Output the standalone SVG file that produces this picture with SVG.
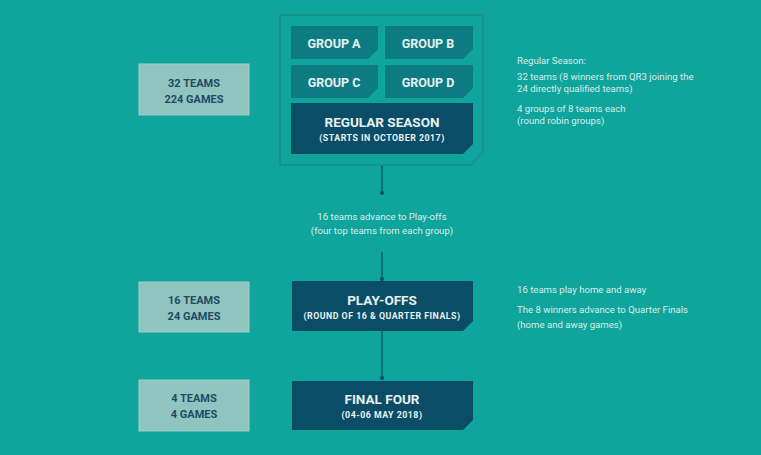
<svg xmlns="http://www.w3.org/2000/svg" width="761" height="455" viewBox="0 0 761 455">
<style>
.bg{fill:#0fa49c}
.frame{fill:none;stroke:#1d8e89;stroke-width:1.6}
.grp{fill:#0d7b82}
.dark{fill:#0b4c66}
.light{fill:#8fc5be;stroke:#9dcec7;stroke-width:1}
.lbl{font-family:Roboto,"Liberation Sans",sans-serif;font-weight:bold;fill:#e6f2f1;text-anchor:middle}
.big{font-size:13.5px}
.sub{font-size:8.8px;letter-spacing:0.5px}
.grpt{font-size:12.5px}
.cnt{font-family:Roboto,"Liberation Sans",sans-serif;font-weight:bold;font-size:11px;fill:#1f4a66;text-anchor:middle}
.note{font-family:Roboto,"Liberation Sans",sans-serif;font-size:9.6px;fill:#d6efeb}
.mid{text-anchor:middle}
.line{stroke:#0b4c66;stroke-width:1.2;fill:none}
.dot{fill:#0b4c66}
</style>
<rect class="bg" x="0" y="0" width="761" height="455"/>

<g id="connectors">
<line class="line" x1="382" y1="165" x2="382" y2="193"/>
<circle class="dot" cx="382" cy="193" r="2"/>
<line class="line" x1="382" y1="252" x2="382" y2="280"/>
<circle class="dot" cx="382" cy="279" r="2"/>
<line class="line" x1="382" y1="331" x2="382" y2="380"/>
<circle class="dot" cx="382" cy="378" r="2"/>
</g>

<g id="regular-season-frame">
<path class="frame" d="M280,15 H483 V152 L471,165 H280 Z"/>
</g>

<g id="group-a">
<path class="grp" d="M291,26 H378 V49 L368,59 H291 Z"/>
<text class="lbl grpt" x="334" y="48">GROUP A</text>
</g>
<g id="group-b">
<path class="grp" d="M385,26 H473 V49 L463,59 H385 Z"/>
<text class="lbl grpt" x="428" y="48">GROUP B</text>
</g>
<g id="group-c">
<path class="grp" d="M291,65 H378 V88 L368,98 H291 Z"/>
<text class="lbl grpt" x="334" y="87">GROUP C</text>
</g>
<g id="group-d">
<path class="grp" d="M385,65 H473 V88 L463,98 H385 Z"/>
<text class="lbl grpt" x="428" y="87">GROUP D</text>
</g>
<g id="regular-season">
<path class="dark" d="M291,103 H473 V144 L463,154 H291 Z"/>
<text class="lbl big" x="382" y="127">REGULAR SEASON</text>
<text class="lbl sub" x="382" y="141">(STARTS IN OCTOBER 2017)</text>
</g>

<g id="advance-note">
<text class="note mid" x="382" y="220">16 teams advance to Play-offs</text>
<text class="note mid" x="382" y="234">(four top teams from each group)</text>
</g>

<g id="play-offs">
<path class="dark" d="M292,281 H473 V321 L463,331 H292 Z"/>
<text class="lbl big" x="382" y="305">PLAY-OFFS</text>
<text class="lbl sub" x="382" y="319">(ROUND OF 16 &amp; QUARTER FINALS)</text>
</g>

<g id="final-four">
<path class="dark" d="M292,381 H473 V420 L463,430 H292 Z"/>
<text class="lbl big" x="382" y="404">FINAL FOUR</text>
<text class="lbl sub" x="382" y="418">(04-06 MAY 2018)</text>
</g>

<g id="count-regular">
<rect class="light" x="139" y="64" width="110" height="51"/>
<text class="cnt" x="194" y="87">32 TEAMS</text>
<text class="cnt" x="194" y="103">224 GAMES</text>
</g>
<g id="count-playoffs">
<rect class="light" x="139" y="282" width="110" height="50"/>
<text class="cnt" x="194" y="304">16 TEAMS</text>
<text class="cnt" x="194" y="320">24 GAMES</text>
</g>
<g id="count-final">
<rect class="light" x="139" y="380" width="110" height="51"/>
<text class="cnt" x="194" y="402">4 TEAMS</text>
<text class="cnt" x="194" y="418">4 GAMES</text>
</g>

<g id="notes-regular">
<text class="note" x="517" y="64">Regular Season:</text>
<text class="note" x="517" y="80">32 teams (8 winners from QR3 joining the</text>
<text class="note" x="517" y="92">24 directly qualified teams)</text>
<text class="note" x="517" y="112">4 groups of 8 teams each</text>
<text class="note" x="517" y="124">(round robin groups)</text>
</g>
<g id="notes-playoffs">
<text class="note" x="517" y="293">16 teams play home and away</text>
<text class="note" x="517" y="313">The 8 winners advance to Quarter Finals</text>
<text class="note" x="517" y="328">(home and away games)</text>
</g>
</svg>
